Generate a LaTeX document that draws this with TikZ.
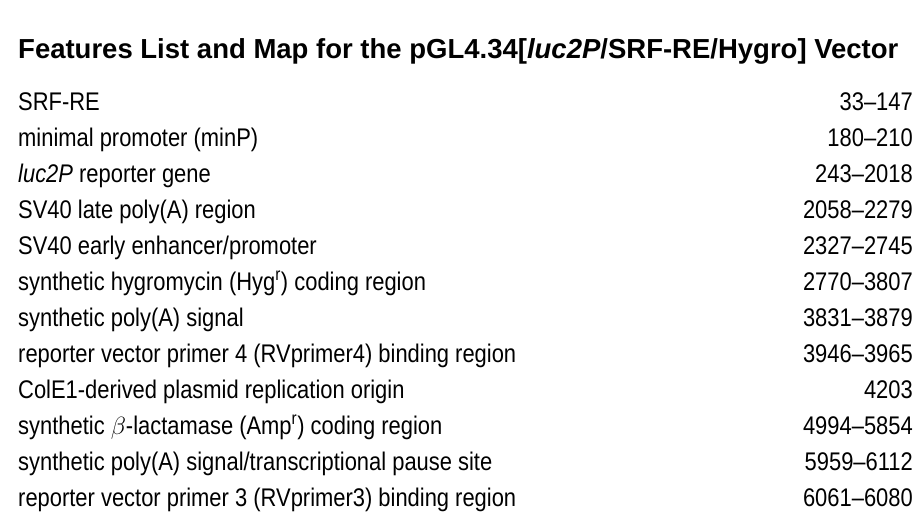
\documentclass[tikz,border=0pt]{standalone}
\usepackage{fontspec}
\setmainfont[FakeStretch=0.86]{Liberation Sans}
\newfontfamily\titlefont{Liberation Sans}
\tikzset{
  feature/.style={anchor=base west, inner sep=0pt, font=\fontsize{25.5}{28}\selectfont},
  location/.style={anchor=base east, inner sep=0pt, font=\fontsize{25.5}{28}\selectfont}
}
\begin{document}
\begin{tikzpicture}[x=1pt,y=-1pt]
  \useasboundingbox (0,0) rectangle (923,530);
  \node[anchor=base west, inner sep=0pt, font=\fontsize{27.5}{31}\titlefont\bfseries] (title) at (18,58)
    {Features List and Map for the pGL4.34[\textit{luc2P}/SRF-RE/Hygro] Vector};
  % features and their positions
  \foreach \name/\pos [count=\i] in {
      {SRF-RE}/{33--147},
      {minimal promoter (minP)}/{180--210},
      {\textit{luc2P} reporter gene}/{243--2018},
      {SV40 late poly(A) region}/{2058--2279},
      {SV40 early enhancer/promoter}/{2327--2745},
      {synthetic hygromycin (Hyg\textsuperscript{r}) coding region}/{2770--3807},
      {synthetic poly(A) signal}/{3831--3879},
      {reporter vector primer 4 (RVprimer4) binding region}/{3946--3965},
      {ColE1-derived plasmid replication origin}/{4203},
      {synthetic $\beta$-lactamase (Amp\textsuperscript{r}) coding region}/{4994--5854},
      {synthetic poly(A) signal/transcriptional pause site}/{5959--6112},
      {reporter vector primer 3 (RVprimer3) binding region}/{6061--6080}}
  {
    \node[feature] (feature\i) at (18,{74+36*\i}) {\name};
    \node[location] (location\i) at (913,{74+36*\i}) {\pos};
  }
\end{tikzpicture}
\end{document}
